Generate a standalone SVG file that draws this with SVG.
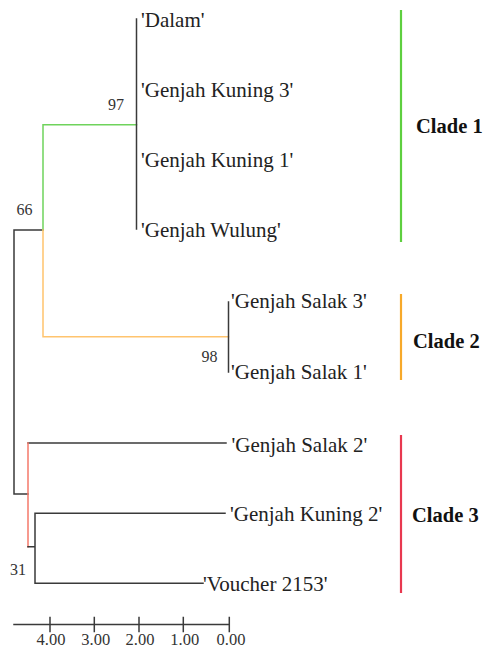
<svg xmlns="http://www.w3.org/2000/svg" width="485" height="656" viewBox="0 0 485 656">
<style>
  .br{fill:none;stroke:#3a3a3a;stroke-width:1.5;stroke-linecap:square}
  .g{stroke:#6fd35c}
  .o{stroke:#ffc46e}
  .r{stroke:#f4786a}
  .leaf{font-family:"Liberation Serif","Times New Roman",serif;font-size:21px;fill:#222}
  .bs{font-family:"Liberation Serif","Times New Roman",serif;font-size:16px;fill:#333}
  .clade{font-family:"Liberation Serif","Times New Roman",serif;font-size:20.5px;font-weight:bold;fill:#111}
  .bar{stroke-width:2.2;fill:none}
  .ax{font-family:"Liberation Serif","Times New Roman",serif;font-size:16.5px;fill:#333;text-anchor:middle}
</style>
<rect width="485" height="656" fill="#fff"/>
<g id="connectors">
  <path class="br" d="M14,230 V494 M14,230 H43 M14,494 H28"/>
  <path class="br g" d="M43,230 V124.7 H136.5"/>
  <path class="br o" d="M43,230 V336.7 H228.5"/>
  <path class="br" d="M136.5,19 V229"/>
  <path class="br" d="M228.5,302 V372"/>
  <path class="br" d="M28,443 H226"/>
  <path class="br r" d="M28,443 V546.7"/>
  <path class="br" d="M28,546.7 H35 M35,513.3 V583.3 M35,513.3 H225 M35,583.3 H203"/>
</g>
<g id="leaf-dalam"><text class="leaf" x="141" y="26.5">'Dalam'</text></g>
<g id="leaf-kuning3"><text class="leaf" x="141" y="96.5">'Genjah Kuning 3'</text></g>
<g id="leaf-kuning1"><text class="leaf" x="141" y="166.5">'Genjah Kuning 1'</text></g>
<g id="leaf-wulung"><text class="leaf" x="141" y="237">'Genjah Wulung'</text></g>
<g id="leaf-salak3"><text class="leaf" x="231" y="307.5">'Genjah Salak 3'</text></g>
<g id="leaf-salak1"><text class="leaf" x="231" y="378.5">'Genjah Salak 1'</text></g>
<g id="leaf-salak2"><text class="leaf" x="231.5" y="451.5">'Genjah Salak 2'</text></g>
<g id="leaf-kuning2"><text class="leaf" x="230" y="520.5">'Genjah Kuning 2'</text></g>
<g id="leaf-voucher"><text class="leaf" x="203" y="590.5">'Voucher 2153'</text></g>
<g id="bootstrap">
  <text class="bs" x="108" y="110">97</text>
  <text class="bs" x="16.5" y="215">66</text>
  <text class="bs" x="201.5" y="361.5">98</text>
  <text class="bs" x="10" y="575">31</text>
</g>
<g id="clade1"><line class="bar" stroke="#5ecf3f" x1="401" y1="10" x2="401" y2="242"/><text class="clade" x="416" y="132.5">Clade 1</text></g>
<g id="clade2"><line class="bar" stroke="#f7a92a" x1="401" y1="294" x2="401" y2="380"/><text class="clade" x="413" y="347.5">Clade 2</text></g>
<g id="clade3"><line class="bar" stroke="#e8384f" x1="401" y1="435" x2="401" y2="593"/><text class="clade" x="412" y="522">Clade 3</text></g>
<g id="scale">
  <path class="br" d="M14,624.5 H229.3 M50,617.5 V631.5 M94.3,617.5 V631.5 M139,617.5 V631.5 M183.3,617.5 V631.5 M229.3,617.5 V631.5"/>
  <text class="ax" x="51" y="645">4.00</text>
  <text class="ax" x="95.8" y="645">3.00</text>
  <text class="ax" x="140" y="645">2.00</text>
  <text class="ax" x="184.7" y="645">1.00</text>
  <text class="ax" x="231" y="645">0.00</text>
</g>
</svg>
